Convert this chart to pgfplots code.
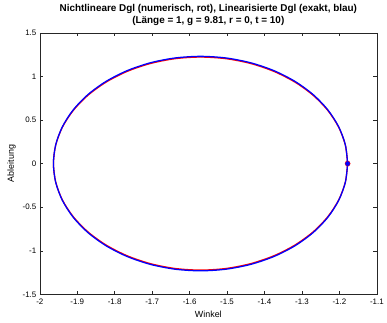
\documentclass[border=0pt]{standalone}
\usepackage{fontspec}
\setmainfont{Liberation Sans}
\usepackage{pgfplots}
\pgfplotsset{compat=1.18}
\definecolor{axgray}{rgb}{0.15,0.15,0.15}
\begin{document}
\begin{tikzpicture}
\begin{axis}[
  scale only axis,
  width=339bp, height=263bp,
  xmin=-2, xmax=-1.1, ymin=-1.5, ymax=1.5,
  xtick={-2,-1.9,-1.8,-1.7,-1.6,-1.5,-1.4,-1.3,-1.2,-1.1},
  ytick={-1.5,-1,-0.5,0,0.5,1,1.5},
  /pgf/number format/assume math mode=true,
  /pgf/number format/fixed,
  tick label style={font=\fontsize{8}{9.6}\selectfont, color=black},
  xticklabel style={yshift=-1.5bp},
  label style={font=\fontsize{9}{10.8}\selectfont},
  xlabel style={yshift=1bp},
  xlabel={Winkel}, ylabel={Ableitung},
  title style={font=\bfseries\fontsize{10}{12}\selectfont, align=center, yshift=-2.5bp},
  title={Nichtlineare Dgl (numerisch, rot), Linearisierte Dgl (exakt, blau)\\(Länge = 1, g = 9.81, r = 0, t = 10)},
  axis line style={axgray, line width=0.5pt},
  every tick/.style={axgray, line width=0.5pt},
  major tick length=3.5bp,
  tick align=inside,
]
\addplot[red, line width=1.3pt, smooth] coordinates {
(-1.1781,0) (-1.18407,0.21087) (-1.20178,0.41556) (-1.23071,0.60805) (-1.26997,0.78253)
(-1.31838,0.93364) (-1.37445,1.05663) (-1.43649,1.14749) (-1.50261,1.20327) (-1.5708,1.22207)
(-1.63899,1.20327) (-1.70511,1.14749) (-1.76715,1.05663) (-1.82322,0.93364) (-1.87163,0.78253)
(-1.91089,0.60805) (-1.93982,0.41556) (-1.95753,0.21087) (-1.9635,0)
(-1.95753,-0.21087) (-1.93982,-0.41556) (-1.91089,-0.60805) (-1.87163,-0.78253) (-1.82322,-0.93364)
(-1.76715,-1.05663) (-1.70511,-1.14749) (-1.63899,-1.20327) (-1.5708,-1.22207) (-1.50261,-1.20327)
(-1.43649,-1.14749) (-1.37445,-1.05663) (-1.31838,-0.93364) (-1.26997,-0.78253) (-1.23071,-0.60805)
(-1.20178,-0.41556) (-1.18407,-0.21087) (-1.1781,0)
};
\addplot[blue, line width=1.3pt, smooth] coordinates {
(-1.1781,0) (-1.18407,0.21359) (-1.20178,0.42068) (-1.23071,0.61500) (-1.26997,0.79063)
(-1.31838,0.94223) (-1.37445,1.06522) (-1.43649,1.15582) (-1.50261,1.21132) (-1.5708,1.23)
(-1.63899,1.21132) (-1.70511,1.15582) (-1.76715,1.06522) (-1.82322,0.94223) (-1.87163,0.79063)
(-1.91089,0.61500) (-1.93982,0.42068) (-1.95753,0.21359) (-1.9635,0)
(-1.95753,-0.21359) (-1.93982,-0.42068) (-1.91089,-0.61500) (-1.87163,-0.79063) (-1.82322,-0.94223)
(-1.76715,-1.06522) (-1.70511,-1.15582) (-1.63899,-1.21132) (-1.5708,-1.23) (-1.50261,-1.21132)
(-1.43649,-1.15582) (-1.37445,-1.06522) (-1.31838,-0.94223) (-1.26997,-0.79063) (-1.23071,-0.61500)
(-1.20178,-0.42068) (-1.18407,-0.21359) (-1.1781,0)
};
\addplot[only marks, mark=*, red, mark size=2.6bp] coordinates {(-1.1781,0)};
\addplot[only marks, mark=*, blue, mark size=2.1bp] coordinates {(-1.1781,0)};
\end{axis}
\path[use as bounding box] (-40bp,-28bp) rectangle (347bp,296bp);
\end{tikzpicture}
\end{document}
